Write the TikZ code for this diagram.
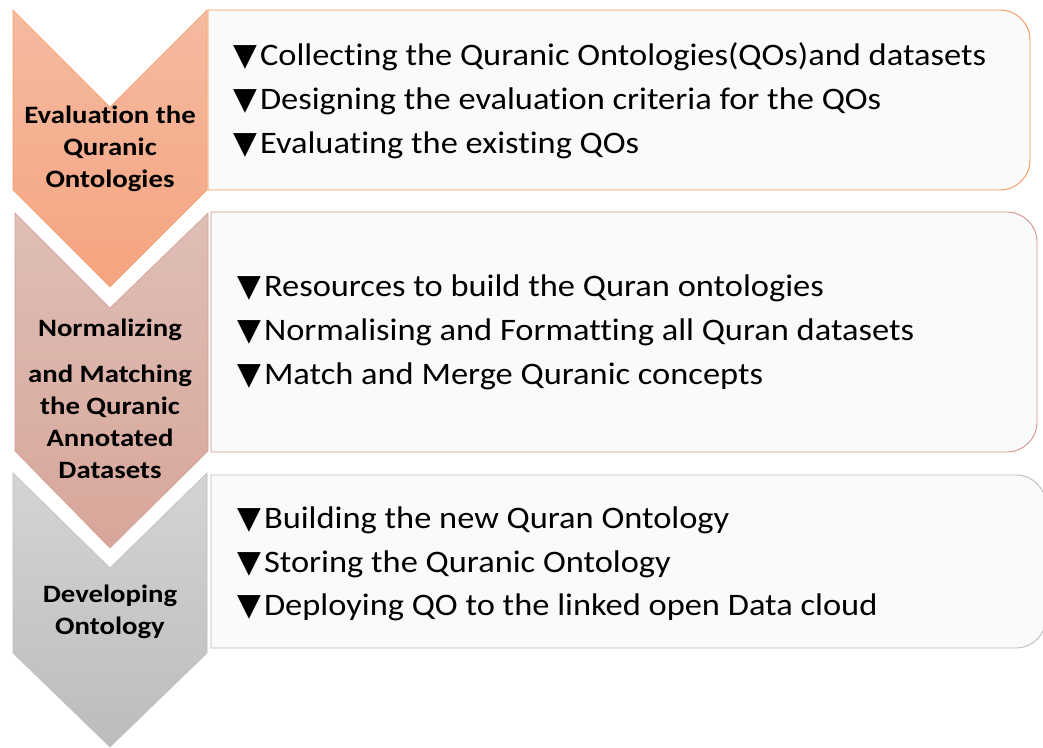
\documentclass[tikz,border=0pt]{standalone}
\usepackage{fontspec}
\setmainfont{Carlito}[Ligatures=NoCommon]
\newfontfamily\itemfont{Carlito}[FakeStretch=1.1,Ligatures=NoCommon]
\newfontfamily\chevfont{Carlito}[FakeStretch=1.15,Ligatures=NoCommon]
\newfontfamily\symfont{DejaVu Sans}
\newcommand{\tri}{{\symfont\fontsize{31}{34}\selectfont ▼}\hspace{3pt}}
\begin{document}
\begin{tikzpicture}[x=1pt,y=-1pt,
  chevtext/.style={font=\chevfont\bfseries\fontsize{25}{32}\selectfont,align=center,text=black,inner sep=0pt},
  item/.style={font=\itemfont\fontsize{31.3}{34}\selectfont,anchor=west,inner sep=0pt,text=black},
  boxline/.style={line width=0.9pt,fill=white!98!black}]
\useasboundingbox (0,0) rectangle (1043,747);
\fill[white] (0,0) rectangle (1043,747);
% chevrons
\shade[top color={rgb,255:red,245;green,186;blue,160},bottom color={rgb,255:red,245;green,164;blue,128},draw={rgb,255:red,244;green,160;blue,110},line width=0.6pt]
  (13,10) -- (110,107) -- (207,10) -- (207,190) -- (110,287) -- (13,190) -- cycle;
\shade[top color={rgb,255:red,222;green,190;blue,182},bottom color={rgb,255:red,216;green,166;blue,154},draw={rgb,255:red,212;green,160;blue,148},line width=0.6pt]
  (15,213) -- (110,308) -- (208,213) -- (208,451) -- (110,548) -- (15,451) -- cycle;
\shade[top color={rgb,255:red,212;green,212;blue,212},bottom color={rgb,255:red,188;green,188;blue,188},draw={rgb,255:red,190;green,190;blue,190},line width=0.6pt]
  (13,473) -- (110,568) -- (207,473) -- (207,653) -- (110,747) -- (13,653) -- cycle;
% boxes
\draw[boxline,draw={rgb,255:red,243;green,150;blue,85}]
  (208,190) -- (208,10) [rounded corners=30pt] -- (1030,10) -- (1030,190) [sharp corners] -- cycle;
\draw[boxline,draw={rgb,255:red,212;green,150;blue,136}]
  (211,452) -- (211,212) [rounded corners=30pt] -- (1037,212) -- (1037,452) [sharp corners] -- cycle;
\draw[boxline,draw={rgb,255:red,190;green,190;blue,190}]
  (211,648) -- (211,475) [rounded corners=30pt] -- (1046,475) -- (1046,648) [sharp corners] -- cycle;
% chevron texts
\node[chevtext] (c1) at (110,149) {Evaluation the\\Quranic\\Ontologies};
\node[chevtext] (c2a) at (110,330) {Normalizing};
\node[chevtext] (c2b) at (110,422) {and Matching\\the Quranic\\Annotated\\Datasets};
\node[chevtext] (c3) at (110,612) {Developing\\Ontology};
% items
\node[item] (a1) at (233,57) {\tri Collecting the Quranic Ontologies(QOs)and datasets};
\node[item] (a2) at (233,101) {\tri Designing the evaluation criteria for the QOs};
\node[item] (a3) at (233,145) {\tri Evaluating the existing QOs};
\node[item] (b1) at (237,288) {\tri Resources to build the Quran ontologies};
\node[item] (b2) at (237,332) {\tri Normalising and Formatting all Quran datasets};
\node[item] (b3) at (237,376) {\tri Match and Merge Quranic concepts};
\node[item] (d1) at (237,520) {\tri Building the new Quran Ontology};
\node[item] (d2) at (237,564) {\tri Storing the Quranic Ontology};
\node[item] (d3) at (237,607) {\tri Deploying QO to the linked open Data cloud};
\end{tikzpicture}
\end{document}
